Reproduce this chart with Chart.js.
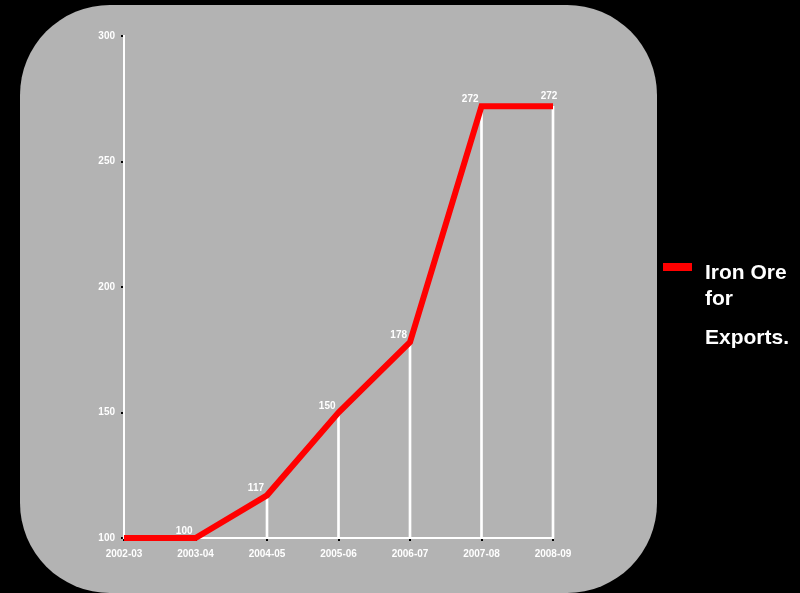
<!DOCTYPE html>
<html>
<head>
<meta charset="utf-8">
<script src="https://cdn.jsdelivr.net/npm/chart.js@4/dist/chart.umd.min.js"></script>
<style>
  html, body { margin: 0; padding: 0; background: #000; }
  #wrap { width: 800px; height: 593px; position: relative; }
</style>
</head>
<body>
<div id="wrap"><canvas id="oreChart" width="800" height="593"></canvas></div>
<script>
// years and index values
const years = ["2002-03", "2003-04", "2004-05", "2005-06", "2006-07", "2007-08", "2008-09"];
const oreValues = [100, 100, 117, 150, 178, 272, 272];
const yTicks = [100, 150, 200, 250, 300];
const seriesName = "Iron Ore for Exports.";
const legendLines = ["Iron Ore", "for", "Exports."];

const FONT = "'Liberation Sans', Arial, sans-serif";

/* grey rounded panel behind the plot */
const panelPlugin = {
    id: "panel",
    beforeDraw(chart) {
        const ctx = chart.ctx;
        ctx.save();
        ctx.fillStyle = "#000";
        ctx.fillRect(0, 0, chart.width, chart.height);
        ctx.fillStyle = "#b3b3b3";
        ctx.beginPath();
        ctx.roundRect(20, 5, 637, 588, 90);
        ctx.fill();
        ctx.restore();
    }
};

/* value labels next to each point */
const valueLabels = {
    id: "valueLabels",
    afterDatasetsDraw(chart) {
        const ctx = chart.ctx;
        const meta = chart.getDatasetMeta(1);
        ctx.save();
        ctx.font = "bold 10px " + FONT;
        ctx.fillStyle = "#fff";
        ctx.textBaseline = "alphabetic";
        meta.data.forEach((pt, i) => {
            if (i === 0) return;
            const last = i === meta.data.length - 1;
            ctx.textAlign = last ? "center" : "right";
            const dx = last ? -4 : -3;
            const dy = last ? -7 : -4;
            ctx.fillText(String(oreValues[i]), pt.x + dx, pt.y + dy);
        });
        ctx.restore();
    }
};

/* legend block on the right */
const sideLegend = {
    id: "sideLegend",
    afterDraw(chart) {
        const ctx = chart.ctx;
        ctx.save();
        ctx.fillStyle = "#ff0000";
        ctx.fillRect(663, 263, 29, 8);
        ctx.fillStyle = "#fff";
        ctx.font = "bold 21px " + FONT;
        ctx.textAlign = "left";
        ctx.textBaseline = "alphabetic";
        const baselines = [279, 305, 344];
        legendLines.forEach((t, i) => ctx.fillText(t, 705, baselines[i]));
        ctx.restore();
    }
};

new Chart(document.getElementById("oreChart"), {
    type: "line",
    data: {
        labels: years,
        datasets: [
            {
                // drop lines from each point to the axis
                type: "bar",
                label: "drop",
                data: oreValues.map(v => [yTicks[0], v]),
                backgroundColor: "#ffffff",
                borderWidth: 0,
                barThickness: 2,
                clip: false,
                order: 2
            },
            {
                type: "line",
                label: seriesName,
                data: oreValues,
                borderColor: "#ff0000",
                borderWidth: 6,
                tension: 0,
                pointRadius: 0,
                fill: false,
                borderCapStyle: "butt",
                borderJoinStyle: "miter",
                clip: false,
                order: 1
            }
        ]
    },
    options: {
        responsive: false,
        animation: false,
        events: [],
        layout: { padding: { left: 0, right: 247, top: 36, bottom: 0 } },
        plugins: {
            legend: { display: false },
            tooltip: { enabled: false }
        },
        scales: {
            x: {
                offset: false,
                grid: {
                    offset: false,
                    drawOnChartArea: false,
                    tickLength: 3,
                    tickColor: "#000",
                    lineWidth: 2
                },
                border: { color: "#fff", width: 2 },
                ticks: {
                    color: "#fff",
                    font: { family: FONT, size: 10, weight: "bold" },
                    padding: 7,
                    maxRotation: 0,
                    autoSkip: false
                },
                afterFit(scale) { scale.height = 55; }
            },
            y: {
                min: yTicks[0],
                max: yTicks[yTicks.length - 1],
                grid: {
                    drawOnChartArea: false,
                    tickLength: 3,
                    tickColor: "#000",
                    lineWidth: 2
                },
                border: { color: "#fff", width: 2 },
                afterBuildTicks(scale) {
                    scale.ticks = yTicks.map(v => ({ value: v }));
                },
                ticks: {
                    color: "#fff",
                    font: { family: FONT, size: 10, weight: "bold" },
                    padding: 6
                },
                afterFit(scale) { scale.width = 124; }
            }
        }
    },
    plugins: [panelPlugin, valueLabels, sideLegend]
});
</script>
</body>
</html>
